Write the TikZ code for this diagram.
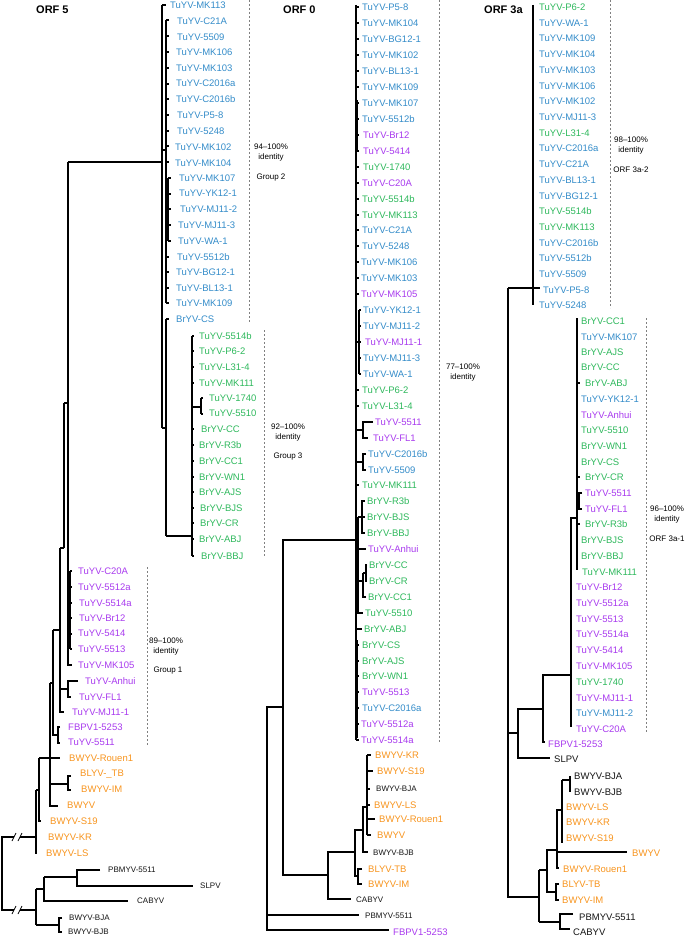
\documentclass[tikz,border=0pt]{standalone}
\usepackage{fontspec}
\setmainfont{Liberation Sans}
\definecolor{cb}{RGB}{52,140,201}
\definecolor{cg}{RGB}{46,184,92}
\definecolor{cp}{RGB}{168,58,238}
\definecolor{co}{RGB}{247,148,30}
\definecolor{ck}{RGB}{20,20,20}
\newcount\lc
\newcommand\lb[4]{\global\advance\lc by 1 \node[lab,text=#1] (n\the\lc) at (#2,#3) {#4};}
\newcommand\lk[4]{\global\advance\lc by 1 \node[#1] (n\the\lc) at (#2,#3) {#4};}
\begin{document}
\begin{tikzpicture}[x=1pt,y=-1pt,
  br/.style={line width=1.1pt,draw=black},
  dsh/.style={line width=0.6pt,draw=black!50,dash pattern=on 2pt off 2pt},
  lab/.style={anchor=west,inner sep=0pt,font=\fontsize{9.5}{11}\selectfont,text height=6.8pt,text depth=0pt},
  blkA/.style={lab,text=ck,font=\fontsize{8}{9}\selectfont,text height=5.7pt},
  blkB/.style={lab,text=ck,font=\fontsize{8}{9}\selectfont,text height=5.7pt},
  blkC/.style={lab,text=ck},
  ann/.style={anchor=center,inner sep=0pt,font=\fontsize{8}{9}\selectfont,text height=5.7pt,text depth=0pt},
  ttl/.style={anchor=west,inner sep=0pt,font=\fontsize{11}{13}\selectfont\bfseries,text height=7.9pt,text depth=0pt}]
\useasboundingbox (0,0) rectangle (685,939);

% ================= titles
\node[ttl] (t5) at (36,10) {ORF 5};
\node[ttl] (t0) at (283,10) {ORF 0};
\node[ttl] (t3) at (484,10) {ORF 3a};

% ================= dashed group lines
\draw[dsh] (249,0)--(249,322);
\draw[dsh] (264,330)--(264,556);
\draw[dsh] (147,567)--(147,745);
\draw[dsh] (439,0)--(439,743);
\draw[dsh] (610,0)--(610,308);
\draw[dsh] (646,318)--(646,732);

% annotations
\node[ann] (a1) at (271,147) {94–100\%};
\node[ann] (a2) at (271,157) {identity};
\node[ann] (a3) at (271,177) {Group 2};
\node[ann] (a4) at (288,427) {92–100\%};
\node[ann] (a5) at (288,437) {identity};
\node[ann] (a6) at (288,456) {Group 3};
\node[ann] (a7) at (166,641) {89–100\%};
\node[ann] (a8) at (166,651) {identity};
\node[ann] (a9) at (168,670) {Group 1};
\node[ann] (b1) at (463,367) {77–100\%};
\node[ann] (b2) at (463,377) {identity};
\node[ann] (c1) at (631,140) {98–100\%};
\node[ann] (c2) at (631,150) {identity};
\node[ann] (c3) at (631,170) {ORF 3a-2};
\node[ann] (c4) at (667,509) {96–100\%};
\node[ann] (c5) at (667,519) {identity};
\node[ann] (c6) at (667,539) {ORF 3a-1};

% ================= ORF 5 tree
\draw[br] (14,837) -- (2,837) -- (2,910) -- (14,910);
\draw[br] (20,837) -- (36,837);
\draw[br] (20,910) -- (36,910);
\draw[br,line width=0.7pt] (12,841)--(16,833) (18,841)--(22,833) (12,914)--(16,906) (18,914)--(22,906);
\draw[br] (36,889)--(36,925);
\draw[br] (36,889)--(44,889);
\draw[br] (44,877)--(44,901)--(128,901);
\draw[br] (44,877)--(77,877);
\draw[br] (100,870)--(77,870)--(77,886)--(193,886);
\draw[br] (36,925)--(59,925);
\draw[br] (62,918)--(59,918)--(59,932)--(62,932);
\draw[br] (36,790)--(36,853)--(37,853);
\draw[br] (36,790)--(39,790);
\draw[br] (39,758)--(39,821)--(41,821);
\draw[br] (39,758)--(60,758);
\draw[br] (50,683)--(50,806)--(58,806);
\draw[br] (50,784)--(68,784);
\draw[br] (71,776)--(68,776)--(68,790)--(71,790);
\draw[br] (50,683)--(53,683);
\draw[br] (53,630)--(53,735)--(58,735);
\draw[br] (60,727)--(58,727)--(58,743)--(60,743);
\draw[br] (53,630)--(60,630);
\draw[br] (60,548)--(60,712)--(64,712);
\draw[br] (60,689)--(68,689);
\draw[br] (78,681)--(68,681)--(68,697)--(71,697);
\draw[br] (60,548)--(64,548);
\draw[br] (64,403)--(64,548);
\draw[br] (64,403)--(68,403);
\draw[br] (68,162)--(68,665)--(72,665);
\draw[br] (68,611)--(70,611);
\draw[br] (70,571)--(70,649);
\foreach \y in {571,587,603,618,634,649} \draw[br] (70,\y)--(72,\y);
\draw[br] (68,162)--(162,162);
\draw[br] (162,5)--(162,428);
\draw[br] (162,5)--(166,5);
\draw[br] (162,150)--(166,150);
\draw[br] (166,20)--(166,303);
\foreach \y in {20,36,52,68,84,99,115,131,146,162,257,272,288,303} \draw[br] (166,\y)--(169,\y);
\draw[br] (166,209)--(168,209);
\draw[br] (168,178)--(168,241);
\foreach \y in {178,194,209,225,241} \draw[br] (168,\y)--(171,\y);
\draw[br] (162,428)--(166,428);
\draw[br] (166,319)--(166,536);
\draw[br] (166,319)--(169,319);
\draw[br] (166,536)--(192,536);
\draw[br] (192,336)--(192,556);
\foreach \y in {336,351,367,383,429,445,461,477,492,508,523,539,556} \draw[br] (192,\y)--(194,\y);
\draw[br] (192,407)--(201,407);
\draw[br] (201,398)--(201,414);
\draw[br] (201,398)--(203,398) (201,414)--(203,414);

% ORF 5 labels
\lb{cb}{170}{5}{TuYV-MK113}
\lb{cb}{177}{21}{TuYV-C21A}
\lb{cb}{177}{37}{TuYV-5509}
\lb{cb}{176}{52}{TuYV-MK106}
\lb{cb}{176}{68}{TuYV-MK103}
\lb{cb}{176}{83}{TuYV-C2016a}
\lb{cb}{176}{99}{TuYV-C2016b}
\lb{cb}{177}{115}{TuYV-P5-8}
\lb{cb}{177}{131}{TuYV-5248}
\lb{cb}{175}{147}{TuYV-MK102}
\lb{cb}{175}{163}{TuYV-MK104}
\lb{cb}{179}{178}{TuYV-MK107}
\lb{cb}{179}{193}{TuYV-YK12-1}
\lb{cb}{180}{209}{TuYV-MJ11-2}
\lb{cb}{178}{225}{TuYV-MJ11-3}
\lb{cb}{178}{241}{TuYV-WA-1}
\lb{cb}{177}{257}{TuYV-5512b}
\lb{cb}{176}{272}{TuYV-BG12-1}
\lb{cb}{176}{288}{TuYV-BL13-1}
\lb{cb}{176}{303}{TuYV-MK109}
\lb{cb}{176}{319}{BrYV-CS}
\lb{cg}{199}{336}{TuYV-5514b}
\lb{cg}{199}{351}{TuYV-P6-2}
\lb{cg}{199}{367}{TuYV-L31-4}
\lb{cg}{199}{383}{TuYV-MK111}
\lb{cg}{209}{398}{TuYV-1740}
\lb{cg}{209}{413}{TuYV-5510}
\lb{cg}{201}{429}{BrYV-CC}
\lb{cg}{199}{445}{BrYV-R3b}
\lb{cg}{199}{461}{BrYV-CC1}
\lb{cg}{199}{477}{BrYV-WN1}
\lb{cg}{199}{492}{BrYV-AJS}
\lb{cg}{200}{508}{BrYV-BJS}
\lb{cg}{200}{523}{BrYV-CR}
\lb{cg}{199}{539}{BrYV-ABJ}
\lb{cg}{201}{556}{BrYV-BBJ}
\lb{cp}{78}{571}{TuYV-C20A}
\lb{cp}{78}{587}{TuYV-5512a}
\lb{cp}{79}{603}{TuYV-5514a}
\lb{cp}{79}{618}{TuYV-Br12}
\lb{cp}{78}{633}{TuYV-5414}
\lb{cp}{78}{649}{TuYV-5513}
\lb{cp}{78}{665}{TuYV-MK105}
\lb{cp}{85}{681}{TuYV-Anhui}
\lb{cp}{79}{697}{TuYV-FL1}
\lb{cp}{72}{712}{TuYV-MJ11-1}
\lb{cp}{68}{727}{FBPV1-5253}
\lb{cp}{68}{742}{TuYV-5511}
\lb{co}{69}{758}{BWYV-Rouen1}
\lb{co}{80}{773}{BLYV-\_TB}
\lb{co}{81}{789}{BWYV-IM}
\lb{co}{67}{805}{BWYV}
\lb{co}{50}{821}{BWYV-S19}
\lb{co}{48}{837}{BWYV-KR}
\lb{co}{46}{853}{BWYV-LS}
\lk{blkA}{108}{870}{PBMYV-5511}
\lk{blkA}{200}{886}{SLPV}
\lk{blkA}{137}{901}{CABYV}
\lk{blkA}{69}{918}{BWYV-BJA}
\lk{blkA}{68}{932}{BWYV-BJB}

% ================= ORF 0 tree
\draw[br] (283,707)--(267,707)--(267,930)--(389,930);
\draw[br] (267,915)--(359,915);
\draw[br] (356,540)--(283,540)--(283,875)--(328,875);
\draw[br] (355,852)--(328,852)--(328,899)--(351,899);
\draw[br] (363,830)--(355,830)--(355,876)--(358,876);
\draw[br] (362,869)--(358,869)--(358,884)--(362,884);
\draw[br] (367,807)--(363,807)--(363,852)--(368,852);
\draw[br] (367,755)--(367,835);
\draw[br] (367,755)--(371,755) (367,771)--(373,771) (367,789)--(370,789) (367,805)--(370,805) (367,819)--(375,819) (367,835)--(371,835);
\draw[br] (356,5)--(356,740);
\draw[br,line width=1.5pt] (357,100)--(357,150);
\draw[br,line width=1.5pt] (357,640)--(357,738);
\foreach \y in {7,23,39,55,71,87,103,119,135,151,167,183,199,215,230,246,262,278,294,390,406,485,645,661,676,692,708,724,740} \draw[br] (356,\y)--(359,\y);
\draw[br] (356,342)--(359,342);
\draw[br] (359,310)--(359,374);
\foreach \y in {310,326,342,358,374} \draw[br] (359,\y)--(361,\y);
\draw[br] (356,430)--(363,430);
\draw[br] (373,422)--(363,422)--(363,438)--(368,438);
\draw[br] (356,462)--(363,462);
\draw[br] (366,454)--(363,454)--(363,470)--(366,470);
\draw[br] (356,560)--(358,560);
\draw[br] (358,517)--(358,613)--(363,613);
\draw[br] (358,517)--(362,517);
\draw[br] (365,501)--(362,501)--(362,533)--(365,533);
\draw[br] (362,517)--(365,517);
\draw[br] (358,549)--(366,549);
\draw[br] (358,581)--(363,581);
\draw[br] (363,573)--(363,597)--(366,597);
\draw[br] (363,573)--(366,573);
\draw[br] (367,565)--(366,565)--(366,581)--(367,581);
\draw[br] (356,629)--(362,629);

% ORF 0 labels
\lb{cb}{362}{7}{TuYV-P5-8}
\lb{cb}{362}{23}{TuYV-MK104}
\lb{cb}{362}{39}{TuYV-BG12-1}
\lb{cb}{362}{55}{TuYV-MK102}
\lb{cb}{362}{71}{TuYV-BL13-1}
\lb{cb}{362}{87}{TuYV-MK109}
\lb{cb}{362}{103}{TuYV-MK107}
\lb{cb}{362}{119}{TuYV-5512b}
\lb{cp}{363}{135}{TuYV-Br12}
\lb{cp}{363}{151}{TuYV-5414}
\lb{cg}{363}{167}{TuYV-1740}
\lb{cp}{362}{183}{TuYV-C20A}
\lb{cg}{362}{199}{TuYV-5514b}
\lb{cg}{362}{215}{TuYV-MK113}
\lb{cb}{362}{230}{TuYV-C21A}
\lb{cb}{362}{246}{TuYV-5248}
\lb{cb}{361}{262}{TuYV-MK106}
\lb{cb}{361}{278}{TuYV-MK103}
\lb{cp}{361}{294}{TuYV-MK105}
\lb{cb}{363}{310}{TuYV-YK12-1}
\lb{cb}{363}{326}{TuYV-MJ11-2}
\lb{cp}{365}{342}{TuYV-MJ11-1}
\lb{cb}{363}{358}{TuYV-MJ11-3}
\lb{cb}{363}{374}{TuYV-WA-1}
\lb{cg}{362}{390}{TuYV-P6-2}
\lb{cg}{362}{406}{TuYV-L31-4}
\lb{cp}{375}{422}{TuYV-5511}
\lb{cp}{373}{438}{TuYV-FL1}
\lb{cb}{368}{454}{TuYV-C2016b}
\lb{cb}{368}{470}{TuYV-5509}
\lb{cg}{362}{485}{TuYV-MK111}
\lb{cg}{367}{501}{BrYV-R3b}
\lb{cg}{367}{517}{BrYV-BJS}
\lb{cg}{367}{533}{BrYV-BBJ}
\lb{cp}{368}{549}{TuYV-Anhui}
\lb{cg}{369}{565}{BrYV-CC}
\lb{cg}{369}{581}{BrYV-CR}
\lb{cg}{368}{597}{BrYV-CC1}
\lb{cg}{365}{613}{TuYV-5510}
\lb{cg}{364}{629}{BrYV-ABJ}
\lb{cg}{362}{645}{BrYV-CS}
\lb{cg}{362}{661}{BrYV-AJS}
\lb{cg}{362}{676}{BrYV-WN1}
\lb{cp}{362}{692}{TuYV-5513}
\lb{cb}{362}{708}{TuYV-C2016a}
\lb{cp}{361}{724}{TuYV-5512a}
\lb{cp}{361}{740}{TuYV-5514a}
\lb{co}{375}{755}{BWYV-KR}
\lb{co}{377}{771}{BWYV-S19}
\lk{blkB}{376}{789}{BWYV-BJA}
\lb{co}{374}{805}{BWYV-LS}
\lb{co}{379}{819}{BWYV-Rouen1}
\lb{co}{377}{835}{BWYV}
\lk{blkB}{373}{853}{BWYV-BJB}
\lb{co}{368}{869}{BLYV-TB}
\lb{co}{368}{884}{BWYV-IM}
\lk{blkB}{356}{900}{CABYV}
\lk{blkB}{365}{916}{PBMYV-5511}
\lb{cp}{393}{932}{FBPV1-5253}

% ================= ORF 3a tree
\draw[br] (533,5)--(533,305);
\draw[br] (508,288)--(540,288);
\draw[br] (508,288)--(508,897)--(539,897);
\draw[br] (508,733)--(518,733);
\draw[br] (543,709)--(518,709)--(518,758)--(550,758);
\draw[br] (571,675)--(543,675)--(543,742)--(545,742);
\draw[br] (577,518)--(571,518)--(571,727);
\draw[br] (577,318)--(577,570);
\draw[br] (577,383)--(580,383);
\draw[br] (577,500)--(579,500);
\draw[br] (582,493)--(579,493)--(579,509)--(582,509);
\draw[br] (577,524)--(580,524);
\draw[br] (577,477)--(580,477);
\draw[br] (539,870)--(539,922);
\draw[br] (539,870)--(547,870);
\draw[br] (557,850)--(547,850)--(547,892)--(556,892);
\draw[br] (559,884)--(556,884)--(556,900)--(559,900);
\draw[br] (562,810)--(557,810)--(557,868)--(559,868);
\draw[br] (557,852)--(627,852);
\draw[br] (562,780)--(562,843);
\draw[br] (562,780)--(570,780);
\draw[br] (570,776)--(570,792);
\draw[br] (573,914)--(560,914)--(560,929)--(570,929);
\draw[br] (539,922)--(560,922);

% ORF 3a labels
\lb{cg}{539}{7}{TuYV-P6-2}
\lb{cb}{539}{23}{TuYV-WA-1}
\lb{cb}{539}{38}{TuYV-MK109}
\lb{cb}{539}{54}{TuYV-MK104}
\lb{cb}{539}{70}{TuYV-MK103}
\lb{cb}{539}{86}{TuYV-MK106}
\lb{cb}{539}{101}{TuYV-MK102}
\lb{cb}{539}{117}{TuYV-MJ11-3}
\lb{cg}{539}{133}{TuYV-L31-4}
\lb{cb}{539}{148}{TuYV-C2016a}
\lb{cb}{539}{164}{TuYV-C21A}
\lb{cb}{539}{180}{TuYV-BL13-1}
\lb{cb}{539}{196}{TuYV-BG12-1}
\lb{cg}{539}{211}{TuYV-5514b}
\lb{cg}{539}{227}{TuYV-MK113}
\lb{cb}{539}{243}{TuYV-C2016b}
\lb{cb}{539}{258}{TuYV-5512b}
\lb{cb}{539}{274}{TuYV-5509}
\lb{cb}{543}{290}{TuYV-P5-8}
\lb{cb}{539}{305}{TuYV-5248}
\lb{cg}{581}{321}{BrYV-CC1}
\lb{cb}{581}{337}{TuYV-MK107}
\lb{cg}{581}{352}{BrYV-AJS}
\lb{cg}{581}{367}{BrYV-CC}
\lb{cg}{585}{383}{BrYV-ABJ}
\lb{cb}{581}{399}{TuYV-YK12-1}
\lb{cp}{581}{415}{TuYV-Anhui}
\lb{cg}{581}{430}{TuYV-5510}
\lb{cg}{581}{446}{BrYV-WN1}
\lb{cg}{581}{462}{BrYV-CS}
\lb{cg}{585}{477}{BrYV-CR}
\lb{cp}{585}{493}{TuYV-5511}
\lb{cp}{585}{509}{TuYV-FL1}
\lb{cg}{585}{524}{BrYV-R3b}
\lb{cg}{581}{540}{BrYV-BJS}
\lb{cg}{581}{556}{BrYV-BBJ}
\lb{cg}{582}{572}{TuYV-MK111}
\lb{cp}{576}{587}{TuYV-Br12}
\lb{cp}{576}{603}{TuYV-5512a}
\lb{cp}{576}{619}{TuYV-5513}
\lb{cp}{576}{634}{TuYV-5514a}
\lb{cp}{576}{650}{TuYV-5414}
\lb{cp}{576}{666}{TuYV-MK105}
\lb{cg}{576}{682}{TuYV-1740}
\lb{cp}{576}{698}{TuYV-MJ11-1}
\lb{cb}{576}{713}{TuYV-MJ11-2}
\lb{cp}{576}{729}{TuYV-C20A}
\lb{cp}{548}{744}{FBPV1-5253}
\lk{blkC}{554}{759}{SLPV}
\lk{blkC}{574}{776}{BWYV-BJA}
\lk{blkC}{574}{792}{BWYV-BJB}
\lb{co}{566}{807}{BWYV-LS}
\lb{co}{566}{822}{BWYV-KR}
\lb{co}{566}{838}{BWYV-S19}
\lb{co}{632}{853}{BWYV}
\lb{co}{563}{869}{BWYV-Rouen1}
\lb{co}{562}{884}{BLYV-TB}
\lb{co}{562}{900}{BWYV-IM}
\lk{blkC}{579}{917}{PBMYV-5511}
\lk{blkC}{573}{932}{CABYV}
\end{tikzpicture}
\end{document}
